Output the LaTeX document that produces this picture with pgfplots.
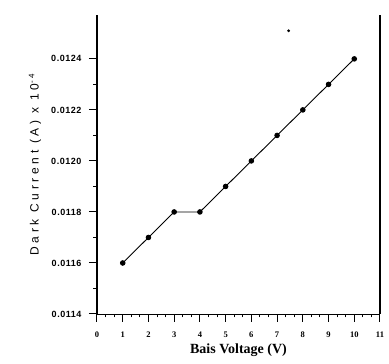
\documentclass[border=0pt]{standalone}
\usepackage{fontspec}
\setmainfont{Liberation Serif}
\setsansfont{Liberation Sans}
\usepackage{pgfplots}
\pgfplotsset{compat=1.18}
\begin{document}
\begin{tikzpicture}
\path[use as bounding box] (-97pt,-50pt) rectangle (292pt,314pt);
\begin{axis}[
 at={(0pt,0pt)}, anchor=south west,
 scale only axis, width=283pt, height=299pt,
 xmin=0, xmax=11, ymin=0.0114, ymax=0.012572,
 axis x line=bottom, axis y line=left,
 axis line style={-},
 x axis line style={line width=0.8pt},
 y axis line style={line width=1.5pt},
 xtick={0,1,2,3,4,5,6,7,8,9,10,11},
 ytick={0.0114,0.0116,0.0118,0.0120,0.0122,0.0124},
 yticklabels={0.0114,0.0116,0.0118,0.0120,0.0122,0.0124},
 scaled y ticks=false,
 minor x tick num=2, minor y tick num=1,
 tick align=outside,
 major tick length=8pt, minor tick length=3.5pt,
 every tick/.style={black, line width=1pt},
 /pgf/number format/assume math mode=true,
 xticklabel style={font=\fontsize{8.5}{9}\selectfont\bfseries, yshift=-6pt},
 yticklabel style={font=\sffamily\fontsize{9}{10}\selectfont\bfseries\addfontfeature{LetterSpace=6}, xshift=-4pt},
 xlabel={Bais Voltage (V)},
 xlabel style={font=\fontsize{14}{16}\selectfont\bfseries, at={(axis description cs:0.5,0)}, anchor=center, yshift=-36pt},
 ylabel={Dark Current (A) x 10\textsuperscript{-4}},
 ylabel style={font=\sffamily\fontsize{12}{14}\selectfont\addfontfeature{LetterSpace=30}, at={(axis description cs:0,0.5)}, anchor=center, rotate=0, yshift=62pt},
 clip=false,
]
\addplot[black, line width=0.9pt, mark=*, mark size=2.3pt] coordinates {
 (1,0.0116) (2,0.0117) (3,0.0118) (4,0.0118) (5,0.0119)
 (6,0.0120) (7,0.0121) (8,0.0122) (9,0.0123) (10,0.0124)};
\addplot[black, only marks, mark=*, mark size=1.2pt] coordinates {(7.45,0.01251)};
\draw[line width=1.5pt] (axis cs:11,0.0114) -- (axis cs:11,0.012572);
\end{axis}
\end{tikzpicture}
\end{document}
